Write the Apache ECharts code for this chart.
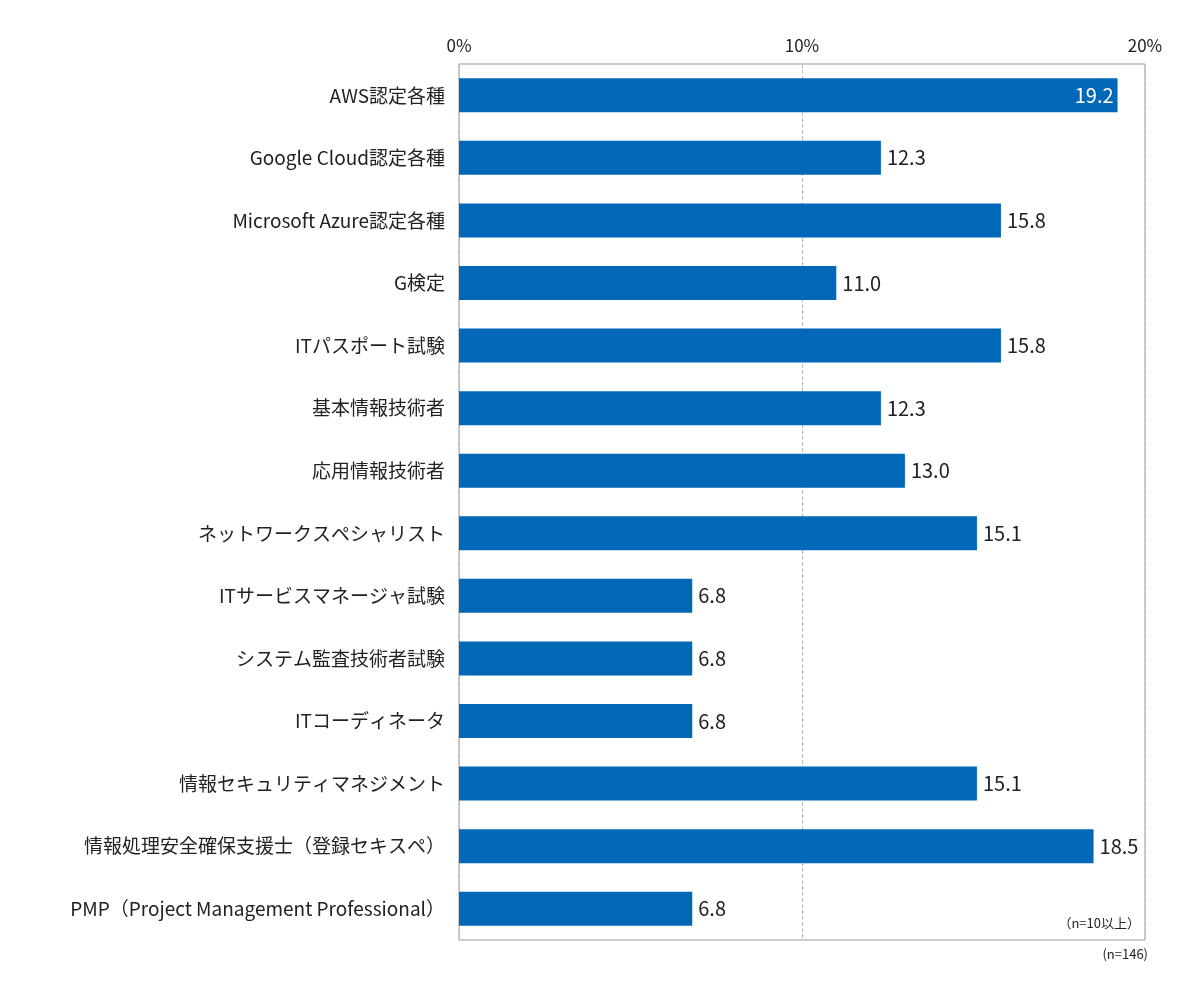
<!DOCTYPE html>
<html lang="ja">
<head>
  <meta charset="UTF-8">
  <title>資格</title>
  <style>
    body { margin: 0; background: #fff; }
    #chart { width: 1200px; height: 1000px; }
  </style>
</head>
<body>
  <div id="chart"></div>
</body>
</html>
<script src="https://cdn.jsdelivr.net/npm/echarts@6/dist/echarts.min.js"></script>
<script>
  const categories = [
    'AWS認定各種', 'Google Cloud認定各種', 'Microsoft Azure認定各種', 'G検定',
    'ITパスポート試験', '基本情報技術者', '応用情報技術者', 'ネットワークスペシャリスト',
    'ITサービスマネージャ試験', 'システム監査技術者試験', 'ITコーディネータ',
    '情報セキュリティマネジメント', '情報処理安全確保支援士（登録セキスペ）',
    'PMP（Project Management Professional）'
  ];
  const values = [19.2, 12.3, 15.8, 11.0, 15.8, 12.3, 13.0, 15.1, 6.8, 6.8, 6.8, 15.1, 18.5, 6.8];
  const xTicks = [0, 10, 20];

  const font = '"Noto Sans CJK JP", "Noto Sans", sans-serif';
  let chart = echarts.init(document.getElementById('chart'));

  let option = {
    textStyle: { fontFamily: font },
    grid: { left: 459, right: 55, top: 64, bottom: 60, show: true, borderColor: '#999', borderWidth: 1 },
    xAxis: {
      type: 'value', position: 'top', min: 0, max: 20, interval: 10,
      axisLine: { show: false }, axisTick: { show: false },
      axisLabel: { color: '#222', fontSize: 17, fontFamily: font, margin: 10,
        formatter: v => xTicks.includes(v) ? v + '%' : '' },
      splitLine: { show: true, lineStyle: { color: '#bbb', type: 'dashed' } }
    },
    yAxis: {
      type: 'category', inverse: true, data: categories,
      axisLine: { show: false }, axisTick: { show: false },
      axisLabel: { color: '#222', fontSize: 19, fontFamily: font, margin: 14 }
    },
    series: [{
      type: 'bar', data: values.map((v, i) => ({
        value: v,
        label: v >= 19 ? { position: 'insideRight', color: '#fff', distance: 4 } : {}
      })),
      barWidth: 34, itemStyle: { color: '#0068b7' },
      label: { show: true, position: 'right', distance: 6, color: '#222', fontSize: 20,
        fontFamily: font, formatter: p => p.value.toFixed(1) }
    }],
    graphic: [
      { type: 'text', right: 60, top: 917, style: { text: '（n=10以上）', fontSize: 13, fill: '#222', fontFamily: font } },
      { type: 'text', right: 52, top: 948, style: { text: '(n=146)', fontSize: 13, fill: '#222', fontFamily: font } }
    ]
  };
  chart.setOption(option);
</script>
